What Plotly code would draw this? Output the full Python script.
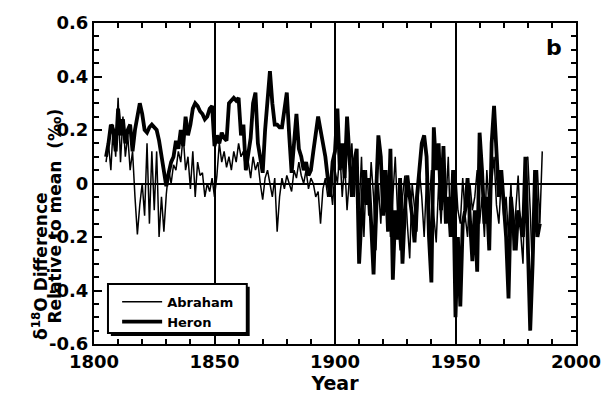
import plotly.graph_objects as go

years_heron = list(range(1805, 1986))
heron = [
    0.10, 0.15, 0.22, 0.20, 0.12, 0.28, 0.18, 0.24, 0.15, 0.20,   # 1805-1814
    0.22, 0.12, 0.20, 0.25, 0.30, 0.26, 0.20, 0.19, 0.21, 0.22,   # 1815-1824
    0.21, 0.20, 0.16, 0.10, 0.03, -0.01, 0.04, 0.08, 0.10, 0.16,  # 1825-1834
    0.13, 0.20, 0.14, 0.25, 0.18, 0.22, 0.28, 0.30, 0.29, 0.27,   # 1835-1844
    0.26, 0.24, 0.25, 0.28, 0.29, 0.14, 0.18, 0.15, 0.19, 0.17,   # 1845-1854
    0.16, 0.30, 0.31, 0.32, 0.31, 0.32, 0.18, 0.22, 0.05, 0.12,   # 1855-1864
    0.17, 0.30, 0.34, 0.15, 0.10, 0.04, 0.20, 0.30, 0.42, 0.30,   # 1865-1874
    0.22, 0.22, 0.21, 0.21, 0.28, 0.34, 0.18, 0.04, 0.15, 0.26,   # 1875-1884
    0.13, 0.10, 0.05, 0.08, 0.03, 0.05, 0.12, 0.20, 0.25, 0.20,   # 1885-1894
    0.15, 0.10, 0.02, -0.05, 0.08, 0.12, 0.28, 0.05, 0.15, 0.02,  # 1895-1904
    0.25, 0.10, -0.05, 0.08, 0.13, -0.30, -0.10, 0.05, -0.08, 0.02,  # 1905-1914
    -0.15, -0.34, -0.05, 0.18, 0.10, -0.12, 0.05, -0.18, 0.13, -0.36,  # 1915-1924
    -0.10, -0.21, 0.02, -0.30, -0.10, 0.03, -0.05, -0.12, -0.22, -0.05,  # 1925-1934
    0.05, 0.15, 0.18, 0.10, -0.20, -0.37, 0.21, 0.05, 0.15, -0.10,  # 1935-1944
    0.14, -0.15, -0.05, -0.20, 0.05, -0.50, -0.20, -0.46, -0.15, -0.10,  # 1945-1954
    0.02, -0.15, -0.29, -0.10, -0.33, 0.19, 0.05, -0.15, -0.05, -0.25,  # 1955-1964
    0.15, 0.29, 0.10, -0.05, 0.05, -0.10, -0.20, -0.43, -0.05, -0.15,  # 1965-1974
    -0.25, -0.10, -0.15, -0.20, 0.10, -0.20, -0.55, -0.30, 0.05, -0.20,  # 1975-1984
    -0.15,  # 1985
]

years_abraham = list(range(1805, 1987))
abraham = [
    0.08, 0.15, 0.05, 0.22, 0.10, 0.32, 0.08, 0.25, 0.10, 0.18,   # 1805-1814
    0.05, 0.12, -0.05, -0.19, -0.08, 0.00, -0.12, 0.15, -0.15, 0.12,  # 1815-1824
    -0.10, 0.12, -0.20, -0.05, -0.18, -0.04, 0.05, 0.00, 0.07, 0.05,  # 1825-1834
    0.12, 0.08, 0.18, 0.05, 0.10, -0.02, 0.12, -0.05, 0.08, 0.03,  # 1835-1844
    0.04, -0.05, 0.00, -0.03, 0.02, -0.05, 0.03, 0.15, 0.08, 0.12,  # 1845-1854
    0.06, 0.10, 0.05, 0.12, 0.08, 0.15, 0.10, 0.12, 0.05, 0.08,   # 1855-1864
    0.02, 0.10, 0.05, 0.08, 0.00, -0.06, 0.02, 0.05, 0.00, -0.05,  # 1865-1874
    0.02, -0.18, -0.05, 0.02, -0.02, 0.03, 0.00, -0.03, 0.05, 0.02,  # 1875-1884
    0.08, 0.03, 0.00, 0.05, -0.02, 0.02, 0.00, -0.05, -0.03, -0.15,  # 1885-1894
    -0.02, 0.02, -0.05, 0.00, -0.08, 0.05, 0.00, 0.12, -0.05, 0.08,  # 1895-1904
    -0.10, 0.02, 0.15, -0.05, 0.10, -0.10, 0.10, -0.20, 0.05, -0.12,  # 1905-1914
    0.08, -0.05, -0.25, 0.00, -0.15, 0.05, -0.10, 0.02, -0.20, -0.05,  # 1915-1924
    0.10, -0.12, -0.25, -0.05, 0.03, -0.15, -0.28, 0.00, -0.10, -0.18,  # 1925-1934
    0.05, -0.05, -0.20, 0.02, -0.10, 0.05, -0.12, -0.22, 0.00, -0.15,  # 1935-1944
    0.02, -0.08, 0.10, -0.20, -0.05, 0.05, -0.10, -0.15, 0.02, -0.12,  # 1945-1954
    -0.20, 0.00, -0.10, -0.05, 0.05, -0.15, -0.05, -0.20, 0.05, -0.10,  # 1955-1964
    0.00, 0.10, -0.08, -0.15, 0.02, -0.12, -0.05, -0.20, 0.00, -0.25,  # 1965-1974
    -0.10, 0.03, -0.18, -0.30, 0.08, 0.10, -0.10, -0.35, -0.05, 0.05,  # 1975-1984
    -0.15, 0.12,  # 1985-1986
]

x_ticks = [1800, 1850, 1900, 1950, 2000]
y_ticks = [-0.6, -0.4, -0.2, 0, 0.2, 0.4, 0.6]
y_tick_labels = ["-0.6", "-0.4", "-0.2", "0", "0.2", "0.4", "0.6"]

FONT = "DejaVu Sans"

fig = go.Figure()
fig.add_trace(go.Scatter(
    x=years_abraham, y=abraham, name="Abraham", mode="lines",
    line=dict(color="black", width=1.5),
))
fig.add_trace(go.Scatter(
    x=years_heron, y=heron, name="Heron", mode="lines",
    line=dict(color="black", width=3.8),
))

fig.update_layout(
    width=605, height=400,
    margin=dict(l=94, r=29, t=23, b=56, autoexpand=False),
    paper_bgcolor="white", plot_bgcolor="white",
    showlegend=True,
    legend=dict(
        x=0.048, y=0.178, xanchor="left", yanchor="top",
        borderwidth=0, bgcolor="rgba(0,0,0,0)",
        font=dict(family=FONT, size=13, color="black", weight="bold"),
        tracegroupgap=0, itemwidth=40,
    ),
    xaxis=dict(
        range=[1800, 2000], tickvals=x_ticks, ticktext=[str(v) for v in x_ticks],
        automargin=False,
        showline=True, linecolor="black", linewidth=2, mirror="allticks",
        ticks="inside", ticklen=6, tickwidth=1.5, tickcolor="black",
        minor=dict(dtick=10, tick0=1800, ticks="inside", ticklen=5, tickwidth=1.5, tickcolor="black", showgrid=False),
        showgrid=True, gridcolor="black", gridwidth=2,
        zeroline=False,
        tickfont=dict(family=FONT, size=18, color="black", weight="bold"),
        title=dict(text="Year", font=dict(family=FONT, size=19, color="black", weight="bold"), standoff=6),
    ),
    yaxis=dict(
        range=[-0.6, 0.6], tickvals=y_ticks, ticktext=y_tick_labels,
        automargin=False,
        showline=True, linecolor="black", linewidth=2, mirror="allticks",
        ticks="inside", ticklen=8, tickwidth=1.5, tickcolor="black",
        minor=dict(dtick=0.05, tick0=0, ticks="inside", ticklen=5, tickwidth=1.5, tickcolor="black", showgrid=False),
        showgrid=False,
        zeroline=True, zerolinecolor="black", zerolinewidth=2,
        tickfont=dict(family=FONT, size=18, color="black", weight="bold"),
    ),
)

# legend box with drop shadow (paper coordinates)
fig.add_shape(type="rect", xref="paper", yref="paper",
              x0=0.035, x1=0.323, y0=0.025, y1=0.178,
              fillcolor="black", line=dict(width=0), layer="above")
fig.add_shape(type="rect", xref="paper", yref="paper",
              x0=0.029, x1=0.317, y0=0.034, y1=0.187,
              fillcolor="white", line=dict(color="black", width=2), layer="above")

fig.add_annotation(
    text="δ<sup>18</sup>O Difference", xref="paper", yref="paper",
    x=-0.112, y=0.24, textangle=-90, showarrow=False,
    xanchor="center", yanchor="middle",
    font=dict(family=FONT, size=17, color="black", weight="bold"),
)
fig.add_annotation(
    text="Relative to mean  (‰)", xref="paper", yref="paper",
    x=-0.081, y=0.40, textangle=-90, showarrow=False,
    xanchor="center", yanchor="middle",
    font=dict(family=FONT, size=17, color="black", weight="bold"),
)
fig.add_annotation(
    text="b", xref="paper", yref="paper", x=0.955, y=0.925,
    showarrow=False, xanchor="center", yanchor="middle",
    font=dict(family=FONT, size=22, color="black", weight="bold"),
)

fig.write_html("out.html")
